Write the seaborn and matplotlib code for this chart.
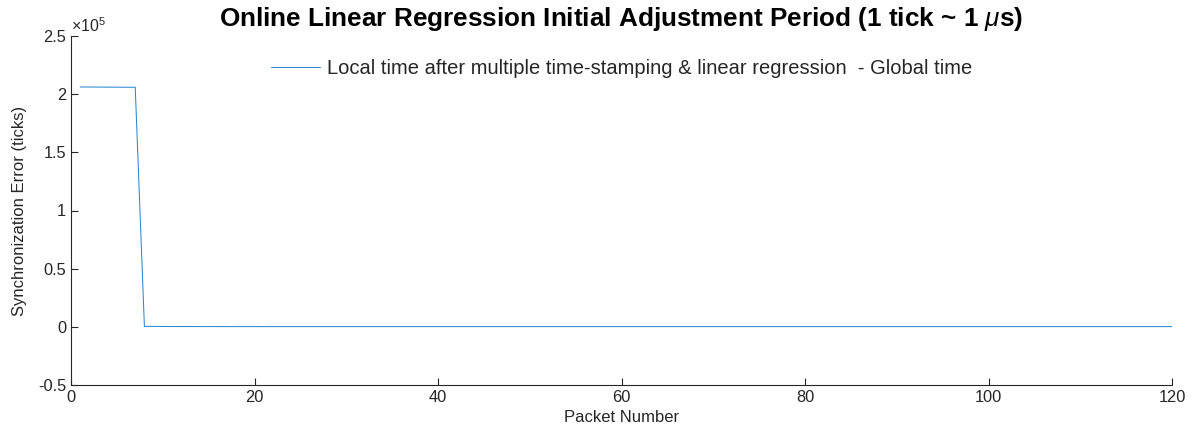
import seaborn as sns
import pandas as pd
import matplotlib.pyplot as plt
from matplotlib.ticker import FuncFormatter

# packet numbers 1..120 and the synchronization error (ticks)
packets = list(range(1, 121))
plateau = [206200, 206150, 206100, 206050, 206000, 205950, 205900]
settled = [400, 350, 300, 280, 260, 250, 240, 230, 225, 220, 215, 210, 205]
settled += [200] * 100
sync_error = plateau + settled

x_ticks = [0, 20, 40, 60, 80, 100, 120]
y_ticks = [-0.5e5, 0, 0.5e5, 1e5, 1.5e5, 2e5, 2.5e5]

df = pd.DataFrame({'Packet Number': packets, 'Error': sync_error})

sns.set_style('white')
plt.rcParams['font.family'] = ['Liberation Sans', 'DejaVu Sans']
plt.rcParams['mathtext.fontset'] = 'custom'
plt.rcParams['mathtext.it'] = 'Liberation Sans:italic'
plt.rcParams['mathtext.rm'] = 'Liberation Sans'

fig = plt.figure(figsize=(11.96, 4.38), dpi=100)
ax = fig.add_axes([71 / 1196, 1 - 385 / 438, (1172 - 71) / 1196, (385 - 36) / 438])

sns.lineplot(data=df, x='Packet Number', y='Error', ax=ax, color='#2A8AD0', linewidth=0.75,
             label='Local time after multiple time-stamping & linear regression  - Global time')

ax.set_xlim(0, 120)
ax.set_ylim(-0.5e5, 2.5e5)
ax.set_xticks(x_ticks)
ax.set_yticks(y_ticks)
ax.yaxis.set_major_formatter(FuncFormatter(lambda v, p: '%g' % (v / 1e5)))
ax.text(0.0, 1.003, r'$\times$10$^5$', transform=ax.transAxes, fontsize=11.5, color='#262626',
        va='bottom', ha='left')

for s in ['top', 'right']:
    ax.spines[s].set_visible(False)
for s in ['left', 'bottom']:
    ax.spines[s].set_color('#262626')
    ax.spines[s].set_linewidth(0.8)
ax.tick_params(bottom=True, left=True, direction='in', length=5, width=0.8,
               colors='#262626', labelsize=11.8)

ax.set_xlabel('Packet Number', fontsize=12, color='#262626', labelpad=4)
ax.set_ylabel('Synchronization Error (ticks)', fontsize=12, color='#262626', labelpad=8)
ax.set_title(r'Online Linear Regression Initial Adjustment Period (1 tick ~ 1 $\mu$s)',
             fontsize=18.8, fontweight='bold', color='black', pad=7)

ax.legend(loc='upper center', frameon=False, fontsize=14.5, handlelength=2.4,
          handletextpad=0.35, bbox_to_anchor=(0.5, 0.985))

fig.savefig('out.png', dpi=100)
